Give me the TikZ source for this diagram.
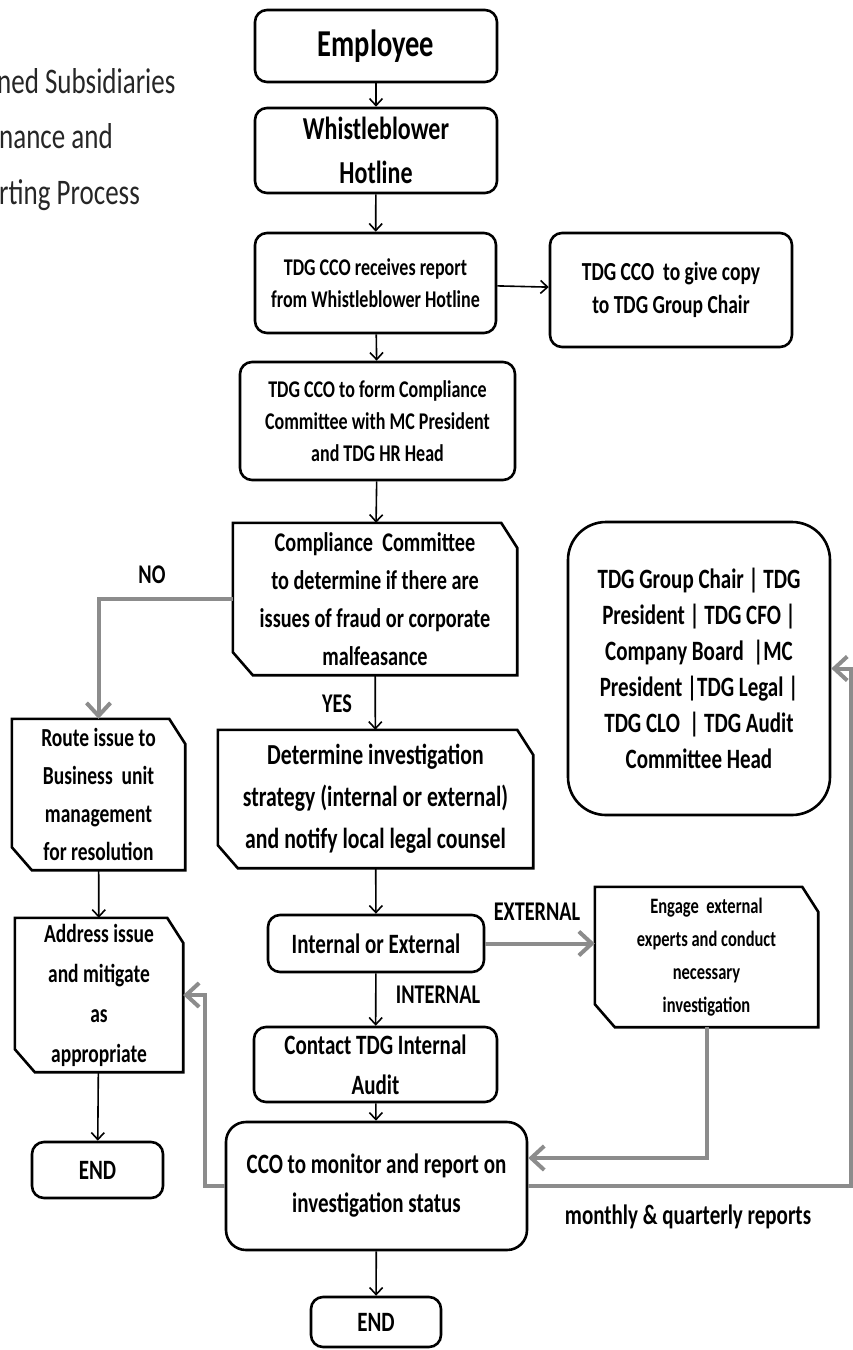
\documentclass[tikz,border=0pt]{standalone}
\usepackage{fontspec}
\setmainfont{Carlito}[FakeStretch=0.75]
\usetikzlibrary{arrows.meta}
\definecolor{linkgray}{HTML}{8C8C8C}
\newcommand{\fsz}[2]{\fontsize{#1}{#2}\selectfont\bfseries}

\begin{document}
\begin{tikzpicture}[x=1pt, y=-1pt,
  box/.style={draw, line width=2.6pt, rounded corners=12pt, align=center, inner sep=0pt},
  plain/.style={align=center, inner sep=0pt},
  frame/.style={line width=2.6pt, line join=miter},
  flow/.style={line width=1.6pt, -{Straight Barb[length=7pt,width=13pt,line width=1.6pt]}},
  back/.style={line width=4pt, linkgray, -{Straight Barb[length=13pt,width=24pt,line width=4pt]}},
  lbl/.style={font=\fsz{27}{30}, inner sep=0pt}]
  \useasboundingbox (0,0) rectangle (853,1350);
  \clip (0,0) rectangle (853,1350);

  % title (cut at the left edge)
  \node[anchor=base west, inner sep=0pt, text=black!85, font=\fontsize{36}{40}\selectfont] (ttla) at (-3,93) {ned Subsidiaries};
  \node[anchor=base west, inner sep=0pt, text=black!85, font=\fontsize{36}{40}\selectfont] (ttlb) at (-1,148) {nance and};
  \node[anchor=base west, inner sep=0pt, text=black!85, font=\fontsize{36}{40}\selectfont] (ttlc) at (-1,204) {rting Process};

  % main column
  \node[box, minimum width=242pt, minimum height=72pt, font=\fsz{38}{44}] (emp) at (376,46) {Employee};
  \node[box, minimum width=242pt, minimum height=85pt, font=\fsz{32}{44}] (hot) at (376,150.5) {Whistleblower\\Hotline};
  \node[box, minimum width=241pt, minimum height=100pt, font=\fsz{24}{32}] (recv) at (375.5,283) {TDG CCO receives report\\from Whistleblower Hotline};
  \node[box, minimum width=242pt, minimum height=114pt, font=\fsz{26}{33}] (copy) at (671,290) {TDG CCO\ \ to give copy\\to TDG Group Chair};
  \node[box, minimum width=275pt, minimum height=118pt, font=\fsz{24}{32}] (form) at (377.5,421) {TDG CCO to form Compliance\\Committee with MC President\\and TDG HR Head};
  \node[plain, minimum width=284pt, minimum height=152pt, font=\fsz{27}{38}] (comm) at (375,599) {Compliance\ \ Committee\\to determine if there are\\issues of fraud or corporate\\malfeasance};
  \node[plain, minimum width=173pt, minimum height=151pt, font=\fsz{26}{38}] (route) at (98.5,794.5) {Route issue to\\Business\ \ unit\\management\\for resolution};
  \node[plain, minimum width=315pt, minimum height=138pt, font=\fsz{29}{42}] (det) at (375.5,799) {Determine investigation\\strategy (internal or external)\\and notify local legal counsel};
  \node[box, rounded corners=38pt, minimum width=262pt, minimum height=293pt, font=\fsz{28}{36}] (panel) at (699,668.5) {TDG Group Chair | TDG\\President | TDG CFO |\\Company Board\ \ |MC\\President |TDG Legal |\\TDG CLO\ \ | TDG Audit\\Committee Head};
  \node[plain, minimum width=168pt, minimum height=154pt, font=\fsz{26}{40}] (addr) at (99,995) {Address issue\\and mitigate\\as\\appropriate};
  \node[box, minimum width=216pt, minimum height=57pt, font=\fsz{28}{32}] (inout) at (376,943.5) {Internal or External};
  \node[plain, minimum width=223pt, minimum height=140pt, font=\fsz{22}{33}] (eng) at (706.5,957) {Engage\ \ external\\experts and conduct\\necessary\\investigation};
  \node[box, minimum width=243pt, minimum height=75pt, font=\fsz{28}{40}] (audit) at (375.5,1064.5) {Contact TDG Internal\\Audit};
  \node[box, rounded corners=20pt, minimum width=301pt, minimum height=128pt, font=\fsz{28}{39}] (cco) at (376.5,1186) {CCO\ to monitor and report on\\investigation status};
  \node[box, minimum width=131pt, minimum height=56pt, font=\fsz{28}{32}] (endl) at (97.5,1170) {END};
  \node[box, minimum width=130pt, minimum height=50pt, font=\fsz{28}{32}] (endr) at (376,1322) {END};

  % snipped frames
  \foreach \n in {comm,route,det,addr,eng}
    \draw[frame] (\n.north west) -- ([xshift=-16pt]\n.north east) -- ([yshift=-25pt]\n.north east)
      -- (\n.south east) -- ([xshift=20pt]\n.south west) -- ([yshift=23pt]\n.south west) -- cycle;

  % black arrows
  \draw[flow] (emp) -- (hot);
  \draw[flow] (hot) -- (recv);
  \draw[flow] (recv) -- (copy);
  \draw[flow] (recv) -- (form);
  \draw[flow] (form) -- (comm);
  \draw[flow] (comm) -- (det);
  \draw[flow] (det) -- (inout);
  \draw[flow] (inout) -- (audit);
  \draw[flow] (audit) -- (cco);
  \draw[flow] (cco) -- (endr);
  \draw[flow] (route) -- (addr);
  \draw[flow] (addr) -- (endl);

  % grey arrows
  \coordinate (lbend) at (205,1186);
  \coordinate (rbend) at (851,1186);
  \draw[back] (comm.west) -| (route.north);
  \draw[back] (inout.east) -- (inout.east -| eng.west);
  \draw[back] (eng.south) |- ([yshift=28pt]cco.east);
  \draw[back] (cco.west) -- (lbend) |- (addr.east);
  \draw[back] (cco.east) -- (rbend) |- (panel.east);

  % labels
  \node[lbl] (nolbl) at (152,575) {NO};
  \node[lbl] (yeslbl) at (337,704) {YES};
  \node[lbl] (extlbl) at (537,912) {EXTERNAL};
  \node[lbl] (intlbl) at (438,995) {INTERNAL};
  \node[lbl, font=\fsz{28}{30}] (replbl) at (688,1217) {monthly \& quarterly reports};
\end{tikzpicture}
\end{document}
